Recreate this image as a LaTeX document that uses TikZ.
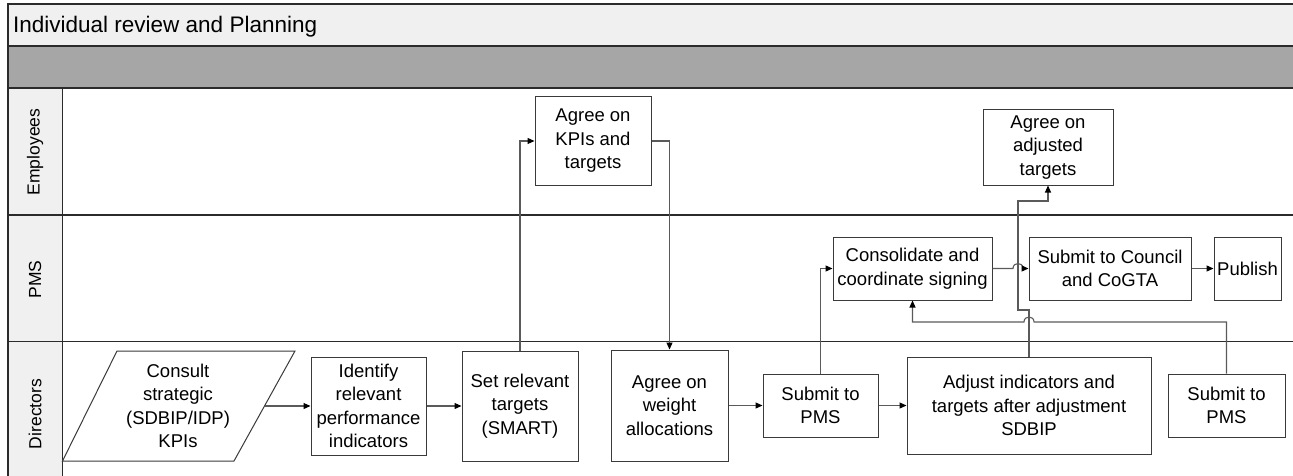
\documentclass[tikz,border=0pt]{standalone}
\usepackage{fontspec}
\setmainfont{Liberation Sans}
\usetikzlibrary{arrows.meta}
\definecolor{hdrfill}{HTML}{F0F0F0}
\definecolor{bandfill}{HTML}{A6A6A6}
\definecolor{framec}{HTML}{2B2B2B}
\definecolor{boxc}{HTML}{3A3A3A}
\definecolor{linkc}{HTML}{5A5A5A}
\begin{document}
\begin{tikzpicture}[x=1pt,y=-1pt,
  frame/.style={draw=framec, line width=1.2pt},
  box/.style={draw=boxc, fill=white, line width=1pt, align=center, inner sep=0pt,
              font=\fontsize{18.5}{23.5}\selectfont},
  lanelabel/.style={rotate=90, inner sep=0pt, font=\fontsize{17.5}{21}\selectfont},
  link/.style={draw=linkc, line width=1.1pt, -{Triangle[length=7pt,width=6pt,color=black]}},
]
\useasboundingbox (0,0) rectangle (1293,476);

% --- pool: title strip, grey band, lane header column ---
\fill[hdrfill] (8,4) rectangle (1300,46);
\fill[bandfill] (8,46) rectangle (1300,88);
\fill[hdrfill] (8,88) rectangle (62.5,480);
\draw[frame] (1300,4) -- (8,4) -- (8,480);
\draw[frame] (8,46) -- (1300,46);
\draw[frame] (8,88) -- (1300,88);
\draw[frame] (8,215) -- (1300,215);
\draw[frame] (8,341.5) -- (1300,341.5);
\draw[frame] (62.5,88) -- (62.5,480);

\node[anchor=base west, inner sep=0pt, font=\fontsize{22.5}{26}\selectfont] (title) at (13,33) {Individual review and Planning};

\node[lanelabel] (laneEmp) at (35,152) {Employees};
\node[lanelabel] (lanePMS) at (35,279.5) {PMS};
\node[lanelabel] (laneDir) at (35,414) {Directors};

% --- Directors lane ---
\draw[boxc, line width=1pt, fill=white] (117,351) -- (295,351) -- (234,461) -- (62.5,461) -- cycle;
\node[align=center, inner sep=0pt, font=\fontsize{18.5}{23.5}\selectfont] (consult) at (178,406)
  {Consult\\strategic\\(SDBIP/IDP)\\KPIs};
\coordinate (consultE) at (264.5,406);

\node[box, minimum width=115pt, minimum height=98pt] (identify) at (368.5,406)
  {Identify\\relevant\\performance\\indicators};
\node[box, minimum width=116pt, minimum height=110pt] (set) at (520,406)
  {Set relevant\\targets\\(SMART)};
\node[box, minimum width=117pt, minimum height=111pt] (weight) at (669.5,405.5)
  {Agree on\\weight\\allocations};
\node[box, minimum width=115pt, minimum height=63pt] (submitA) at (820.5,405.5)
  {Submit to\\PMS};
\node[box, minimum width=244pt, minimum height=97pt] (adjust) at (1029,405.5)
  {Adjust indicators and\\targets after adjustment\\SDBIP};
\node[box, minimum width=117pt, minimum height=63pt] (submitB) at (1226.5,405.5)
  {Submit to\\PMS};

% --- Employees lane ---
\node[box, minimum width=116pt, minimum height=88pt] (agreeKPI) at (593,141)
  {Agree on\\KPIs and\\targets};
\node[box, minimum width=130pt, minimum height=75pt] (agreeAdj) at (1048,147.5)
  {Agree on\\adjusted\\targets};

% --- PMS lane ---
\node[box, minimum width=159pt, minimum height=63pt] (consolidate) at (912.5,268.5)
  {Consolidate and\\coordinate signing};
\node[box, minimum width=162pt, minimum height=63pt] (council) at (1110,268.5)
  {Submit to Council\\and CoGTA};
\node[box, minimum width=67pt, minimum height=63pt] (publish) at (1247.5,268.5)
  {Publish};

% --- connectors ---
\draw[link] (consultE) -- (identify.west);
\draw[link] (identify.east) -- (set.west);
\draw[link] (set.north) |- (agreeKPI.west);
\draw[link] (agreeKPI.east) -| (weight.north);
\draw[link] (weight.east) -- (submitA.west);
\draw[link] (submitA.east) -- (adjust.west);
\draw[link] (submitA.north) |- (consolidate.west);
\draw[link] (consolidate.east) -- (1013,268.5)
  .. controls (1013,261.8) and (1023,261.8) .. (1023,268.5) -- (council.west);
\draw[link] (council.east) -- (publish.west);
\draw[link] (submitB.north) |- (1034,322)
  .. controls (1034,315.3) and (1024,315.3) .. (1024,322) -| (consolidate.south);
\draw[link] (adjust.north) -- (1029,310) -- (1018,310) -- (1018,201) -| (agreeAdj.south);
\end{tikzpicture}
\end{document}
